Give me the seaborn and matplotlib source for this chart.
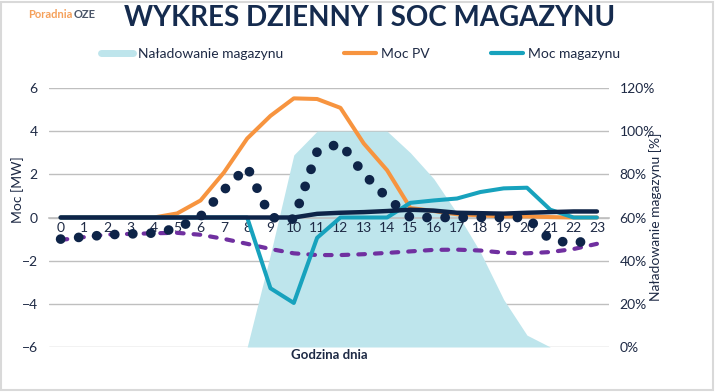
import numpy as np
import pandas as pd
import matplotlib.pyplot as plt
import seaborn as sns
from matplotlib.lines import Line2D
from matplotlib.patches import Rectangle

hours = list(range(24))
pv_power = [0, 0, 0, 0, 0, 0.19, 0.79, 2.08, 3.66, 4.71, 5.52, 5.49, 5.08, 3.43,
            2.19, 0.44, 0.3, 0.15, 0.1, 0.05, 0.05, 0.02, 0, 0]
storage_power = [0, 0, 0, 0, 0, 0, 0, 0, 0, -3.28, -3.96, -0.94, 0, 0, 0, 0.68, 0.79,
                 0.88, 1.18, 1.35, 1.38, 0.36, 0, 0]
soc = [0, 0, 0, 0, 0, 0, 0, 0, 0, 0.43, 0.89, 1.0, 1.0, 1.0, 1.0, 0.90, 0.78, 0.62,
       0.44, 0.22, 0.055, 0, 0, 0]
grid_power = [0, 0, 0, 0, 0, 0, 0, 0, 0, 0, 0, 0.17, 0.22, 0.25, 0.3, 0.36, 0.32,
              0.22, 0.2, 0.18, 0.22, 0.25, 0.28, 0.28]
load_dotted = [-1.0, -0.9, -0.8, -0.76, -0.72, -0.5, 0.05, 1.27, 2.35, 0.0, -0.08,
               3.05, 3.45, 2.02, 0.92, 0, 0, 0, 0, 0, 0, -1.03, -1.2, -0.98]
purple_dashed = [-1.04, -0.91, -0.79, -0.76, -0.73, -0.71, -0.8, -0.99, -1.22, -1.46,
                 -1.66, -1.74, -1.74, -1.7, -1.64, -1.57, -1.5, -1.49, -1.53, -1.63,
                 -1.66, -1.6, -1.46, -1.22]
pct_ticks = [0, 0.2, 0.4, 0.6, 0.8, 1.0, 1.2]
pct_labels = ["0%", "20%", "40%", "60%", "80%", "100%", "120%"]

df = pd.DataFrame({"hour": hours, "pv": pv_power, "storage": storage_power, "soc": soc,
                   "grid": grid_power, "dotted": load_dotted, "purple": purple_dashed})

sns.set_theme(style="white")
plt.rcParams['font.family'] = ['Lato', 'DejaVu Sans']

c_area = "#BEE5EC"
c_pv = "#F7943F"
c_sto = "#17A2BD"
c_navy = "#0E2448"
c_purple = "#7030A0"
c_text = "#1E2A45"

fig = plt.figure(figsize=(7.17, 3.92), dpi=100)
ax = fig.add_axes([0.0683, 0.1148, 0.7805, 0.6607])
ax2 = ax.twinx()

# SOC area on the right axis, behind everything
ax2.fill_between(df["hour"], 0, df["soc"], color=c_area, lw=0, zorder=2)
ax2.set_ylim(0, 1.2)
ax2.set_yticks(pct_ticks)
ax2.set_yticklabels(pct_labels)
ax2.grid(axis="y", color="#BFBFBF", lw=1, zorder=0)
ax2.set_axisbelow(True)
ax2.tick_params(axis="y", length=0, pad=8, labelsize=10, labelcolor=c_text)

ax.set_zorder(ax2.get_zorder() + 1)
ax.patch.set_visible(False)

sns.lineplot(data=df, x="hour", y="purple", ax=ax, color=c_purple, lw=3,
             linestyle=(0, (1.6, 2.4)), dash_capstyle="round")
sns.lineplot(data=df, x="hour", y="pv", ax=ax, color=c_pv, lw=2.9)
sns.lineplot(data=df, x="hour", y="storage", ax=ax, color=c_sto, lw=2.9)
sns.lineplot(data=df, x="hour", y="grid", ax=ax, color=c_navy, lw=3.2)
sns.lineplot(data=df, x="hour", y="dotted", ax=ax, color=c_navy, lw=7,
             linestyle=(0, (0.01, 1.85)), dash_capstyle="round")

ax.set_xlim(-0.5, 23.5)
ax.set_ylim(-6, 6)
ax.set_yticks([-6, -4, -2, 0, 2, 4, 6])
ax.set_xticks(hours)
ax.set_xticklabels([str(h) for h in hours])
ax.set_xlabel("")
ax.set_ylabel("")
for s in ["top", "right", "left"]:
    ax.spines[s].set_visible(False)
for s in ax2.spines.values():
    s.set_visible(False)
ax.spines["bottom"].set_position(("data", 0))
ax.spines["bottom"].set_color("#BFBFBF")
ax.spines["bottom"].set_linewidth(1.2)
ax.spines["bottom"].set_zorder(1)
ax.tick_params(axis="x", length=0, pad=3, labelsize=10, labelcolor=c_text)
ax.tick_params(axis="y", length=0, pad=8, labelsize=10, labelcolor=c_text)

# legend
handles = [Line2D([], [], color=c_area, lw=5),
           Line2D([], [], color=c_pv, lw=3),
           Line2D([], [], color=c_sto, lw=3)]
fig.legend(handles, ["Naładowanie magazynu", "Moc PV", "Moc magazynu"],
           loc="center", bbox_to_anchor=(0.503, 0.862), ncol=3, frameon=False,
           fontsize=10, handlelength=2.3, handletextpad=0.35, columnspacing=4.4,
           labelcolor=c_text)

# titles and labels
fig.text(0.515, 0.953, "WYKRES DZIENNY I SOC MAGAZYNU", ha="center", va="center",
         fontsize=20, fontweight="bold", color="#152B4E")
fig.text(0.039, 0.963, "Poradnia", ha="left", va="center", fontsize=8,
         fontweight="bold", color="#F5A05A")
fig.text(0.102, 0.963, "OZE", ha="left", va="center", fontsize=8,
         fontweight="bold", color="#4A5568")
fig.text(0.459, 0.094, "Godzina dnia", ha="center", va="center", fontsize=9.5,
         fontweight="bold", color=c_text)
fig.text(0.025, 0.515, "Moc [MW]", rotation=90, ha="center", va="center",
         fontsize=10, color=c_text)
fig.text(0.914, 0.447, "Naładowanie magazynu [%]", rotation=90, ha="center",
         va="center", fontsize=10, color=c_text)

fig.patches.append(Rectangle((0.002, 0.004), 0.992, 0.99, transform=fig.transFigure,
                             fill=False, edgecolor="#D9D9D9", lw=1.5))

fig.savefig("out.png", dpi=100)
